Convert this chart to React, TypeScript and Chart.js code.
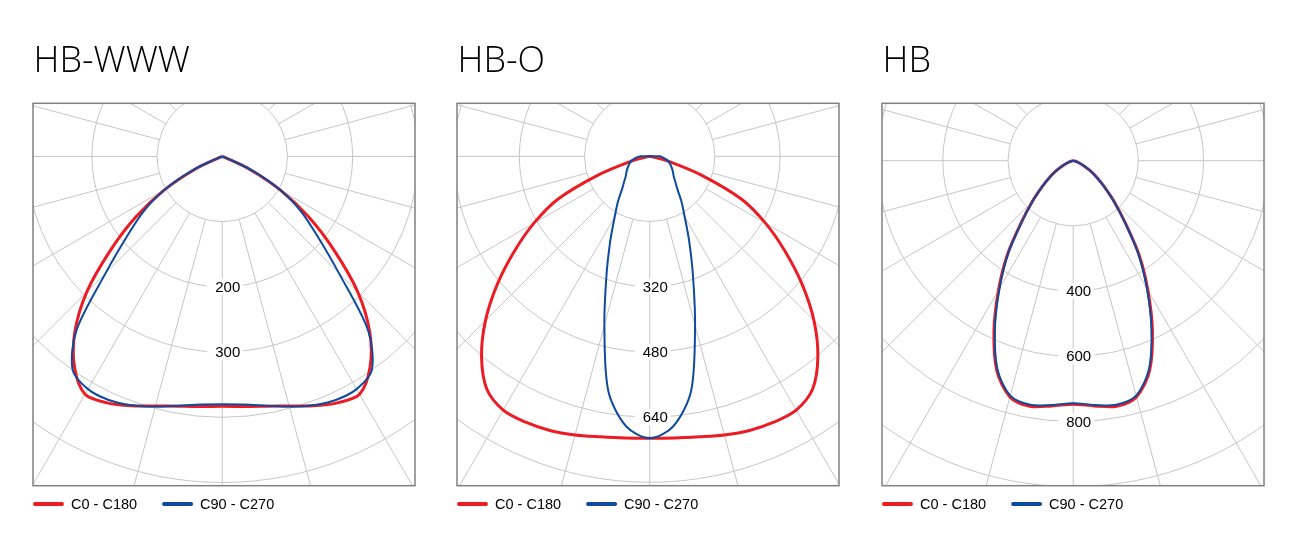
import { useEffect, useRef } from "react";
import { Chart, registerables } from "chart.js";

Chart.register(...registerables);

// gamma angles (deg from nadir), one half of each C-plane, mirrored for the other half
const GAMMA = [0, 5, 10, 15, 20, 25, 30, 35, 40, 45, 50, 55, 60, 65, 70, 75, 80, 85, 90];

const SERIES_LABELS = ["C0 - C180", "C90 - C270"];
const SERIES_COLORS = ["#ec1c24", "#0d4b9e"];

// HB-WWW, cd/klm
const WWW_C0 = [383, 385, 389, 396, 407, 417, 421, 395, 352, 294, 224, 162, 103, 46, 4, 0, 0, 0, 0];
const WWW_C90 = [380, 382, 388, 397, 406, 412, 412, 400, 348, 253, 191, 148, 103, 52, 8, 0, 0, 0, 0];
const WWW_TICKS = [200, 300];

// HB-O
const O_C0 = [692, 694, 699, 708, 716, 720, 719, 697, 642, 570, 488, 405, 328, 248, 135, 50, 8, 0, 0];
const O_C90 = [692, 665, 585, 430, 310, 229, 172, 136, 106, 89, 77, 70, 64, 58, 53, 47, 40, 32, 25];
const O_TICKS = [320, 480, 640];

// HB
const HB_C0 = [747, 755, 765, 750, 685, 575, 458, 352, 248, 178, 125, 88, 58, 34, 18, 9, 4, 1, 0];
const HB_C90 = [744, 752, 760, 746, 680, 568, 452, 348, 246, 176, 124, 87, 58, 34, 18, 9, 4, 1, 0];
const HB_TICKS = [400, 600, 800];

type Panel = {
  title: string;
  left: number;
  c0: number[];
  c90: number[];
  ticks: number[];
  ring: number;
  xMin: number;
  xMax: number;
  yMin: number;
  yMax: number;
};

const PANELS: Panel[] = [
  { title: "HB-WWW", left: 32.7, c0: WWW_C0, c90: WWW_C90, ticks: WWW_TICKS, ring: 100, xMin: -290.3, xMax: 295.6, yMin: -504.9, yMax: 81.6 },
  { title: "HB-O", left: 457.3, c0: O_C0, c90: O_C90, ticks: O_TICKS, ring: 160, xMin: -472.9, xMax: 464.5, yMin: -808.3, yMax: 130.1 },
  { title: "HB", left: 882.3, c0: HB_C0, c90: HB_C90, ticks: HB_TICKS, ring: 200, xMin: -586.5, xMax: 585.3, yMin: -996.9, yMax: 176.1 },
];

const toPoints = (values: number[]) => {
  const pts: { x: number; y: number }[] = [];
  const push = (g: number, v: number) => {
    const r = (g * Math.PI) / 180;
    const p = { x: v * Math.sin(r), y: -v * Math.cos(r) };
    const last = pts[pts.length - 1];
    if (last && Math.abs(last.x - p.x) < 0.01 && Math.abs(last.y - p.y) < 0.01) return;
    pts.push(p);
  };
  for (let i = GAMMA.length - 1; i >= 0; i--) push(-GAMMA[i], values[i]);
  for (let i = 1; i < GAMMA.length; i++) push(GAMMA[i], values[i]);
  if (pts.length > 1) push(-GAMMA[GAMMA.length - 1], values[values.length - 1]);
  return pts;
};

const PolarPanel = ({ panel }: { panel: Panel }) => {
  const canvasRef = useRef<HTMLCanvasElement | null>(null);

  useEffect(() => {
    if (!canvasRef.current) return;
    const ctx = canvasRef.current.getContext("2d");
    if (!ctx) return;

    const decor = {
      id: "polarDecor",
      beforeDatasetsDraw(chart: Chart) {
        const { ctx: c, chartArea: a } = chart;
        const xs = chart.scales.x;
        const ys = chart.scales.y;
        const cx = xs.getPixelForValue(0);
        const cy = ys.getPixelForValue(0);
        const step = xs.getPixelForValue(panel.ring) - cx;
        c.save();
        c.beginPath();
        c.rect(a.left, a.top, a.width, a.height);
        c.clip();
        c.strokeStyle = "#c6c6c6";
        c.lineWidth = 1;
        for (let k = 1; k <= 9; k++) {
          c.beginPath();
          c.arc(cx, cy, k * step, 0, Math.PI * 2);
          c.stroke();
        }
        for (let d = 0; d < 360; d += 15) {
          const t = (d * Math.PI) / 180;
          c.beginPath();
          c.moveTo(cx + Math.sin(t) * step, cy + Math.cos(t) * step);
          c.lineTo(cx + Math.sin(t) * step * 10, cy + Math.cos(t) * step * 10);
          c.stroke();
        }
        c.font = '15px "Liberation Sans", Arial, sans-serif';
        c.textAlign = "center";
        c.textBaseline = "middle";
        panel.ticks.forEach((v) => {
          const ty = ys.getPixelForValue(-v);
          const label = String(v);
          const w = c.measureText(label).width;
          const tx = cx + 5.5;
          c.fillStyle = "#ffffff";
          c.fillRect(tx - w / 2 - 8, ty - 8, w + 11, 16);
          c.fillStyle = "#000000";
          c.fillText(label, tx, ty + 1);
        });
        c.restore();
        c.save();
        c.strokeStyle = "#808080";
        c.lineWidth = 1.5;
        c.strokeRect(a.left, a.top, a.width, a.height);
        c.restore();
      },
      afterDraw(chart: Chart) {
        const { ctx: c, chartArea: a } = chart;
        c.save();
        c.fillStyle = "#000000";
        c.font = '300 36px "Open Sans", sans-serif';
        c.textAlign = "left";
        c.textBaseline = "alphabetic";
        c.fillText(panel.title, a.left + 0.5, a.top - 31);
        let lx = a.left;
        const ly = a.bottom + 18.3;
        c.font = '14.5px "Liberation Sans", Arial, sans-serif';
        c.textBaseline = "middle";
        chart.data.datasets.forEach((ds: any) => {
          c.strokeStyle = ds.borderColor;
          c.lineWidth = 4;
          c.lineCap = "round";
          c.beginPath();
          c.moveTo(lx + 2, ly);
          c.lineTo(lx + 29, ly);
          c.stroke();
          c.fillStyle = "#000000";
          c.fillText(ds.label, lx + 38, ly + 0.5);
          lx += 38 + c.measureText(ds.label).width + 25;
        });
        c.restore();
      },
    };

    const chart = new Chart(ctx, {
      type: "scatter",
      data: {
        datasets: [
          {
            label: SERIES_LABELS[0],
            data: toPoints(panel.c0),
            borderColor: SERIES_COLORS[0],
            backgroundColor: SERIES_COLORS[0],
            borderWidth: 3,
            showLine: true,
            pointRadius: 0,
            tension: 0.3,
            order: 2,
          },
          {
            label: SERIES_LABELS[1],
            data: toPoints(panel.c90),
            borderColor: SERIES_COLORS[1],
            backgroundColor: SERIES_COLORS[1],
            borderWidth: 2,
            showLine: true,
            pointRadius: 0,
            tension: 0.3,
            order: 1,
          },
        ],
      },
      options: {
        animation: false,
        responsive: true,
        maintainAspectRatio: false,
        layout: { padding: { left: 12, right: 12, top: 73.3, bottom: 44.3 } },
        scales: {
          x: { type: "linear", display: false, min: panel.xMin, max: panel.xMax },
          y: { type: "linear", display: false, min: panel.yMin, max: panel.yMax },
        },
        plugins: {
          legend: { display: false },
          tooltip: { enabled: false },
        },
      },
      plugins: [decor],
    });

    return () => {
      chart.destroy();
    };
  }, [panel]);

  return (
    <div
      style={{
        position: "absolute",
        left: panel.left - 12,
        top: 30,
        width: 406,
        height: 500,
      }}
    >
      <canvas ref={canvasRef} />
    </div>
  );
};

const App = () => {
  return (
    <div
      style={{
        position: "fixed",
        left: 0,
        top: 0,
        width: 1292,
        height: 534,
        background: "#ffffff",
      }}
    >
      {PANELS.map((p) => (
        <PolarPanel key={p.title} panel={p} />
      ))}
    </div>
  );
};

export default App;
